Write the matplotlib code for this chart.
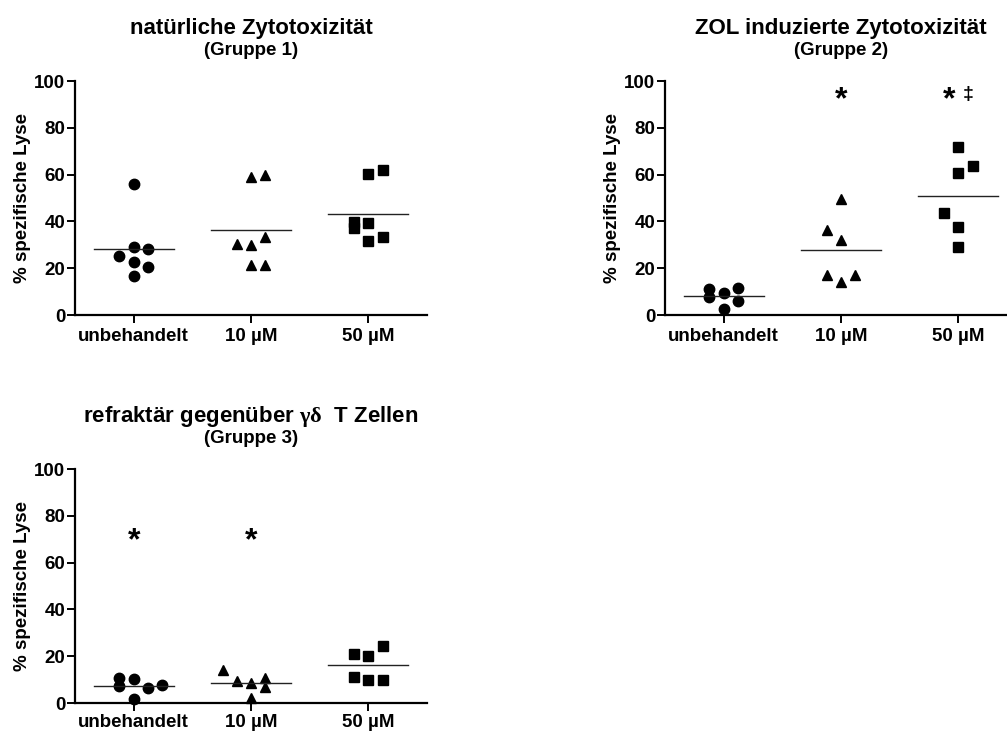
import numpy as np
import matplotlib
matplotlib.use('Agg')
import matplotlib.pyplot as plt

plt.rcParams['font.family'] = ['Liberation Sans', 'DejaVu Sans']
plt.rcParams['font.weight'] = 'bold'
plt.rcParams['axes.labelweight'] = 'bold'
plt.rcParams['mathtext.fontset'] = 'custom'
plt.rcParams['mathtext.rm'] = 'Liberation Serif'
plt.rcParams['mathtext.it'] = 'Liberation Serif'
plt.rcParams['mathtext.bf'] = 'Liberation Serif'

categories = ['unbehandelt', '10 µM', '50 µM']
ylabel = '% spezifische Lyse'

# Gruppe 1
g1_values = [
    [56.0, 28.9, 28.1, 25.4, 22.6, 20.4, 16.5],
    [59.0, 59.7, 30.5, 29.9, 33.5, 21.4, 21.4],
    [60.4, 61.8, 39.9, 37.0, 39.5, 31.8, 33.2],
]
g1_slots = [
    [0, 0, 1, -1, 0, 1, 0],
    [0, 1, -1, 0, 1, 0, 1],
    [0, 1, -1, -1, 0, 0, 1],
]

# Gruppe 2
g2_values = [
    [11.0, 7.5, 9.5, 11.4, 6.1, 2.6],
    [49.7, 36.3, 32.1, 17.2, 14.1, 17.2],
    [71.7, 63.7, 60.5, 43.7, 37.6, 29.1],
]
g2_slots = [
    [-1, -1, 0, 1, 1, 0],
    [0, -1, 0, -1, 0, 1],
    [0, 1, 0, -1, 0, 0],
]

# Gruppe 3
g3_values = [
    [10.6, 7.4, 10.3, 6.3, 7.7, 1.9],
    [14.1, 9.3, 8.7, 10.7, 7.0, 2.0],
    [21.0, 20.1, 24.4, 11.0, 10.0, 10.0],
]
g3_slots = [
    [-1, -1, 0, 1, 2, 0],
    [-2, -1, 0, 1, 1, 0],
    [-1, 0, 1, -1, 0, 1],
]

# significance marks: (category, x shift, y, text)
g2_marks = [(1, 0.0, 94, '*'), (2, -0.08, 94, '*'), (2, 0.085, 94, '‡')]
g3_marks = [(0, 0.0, 71.3, '*'), (1, 0.0, 71.3, '*')]

markers = ['o', '^', 's']
slot_step = 0.121

W, H = 1007, 734
fig = plt.figure(figsize=(W / 100, H / 100), dpi=100)


def make_ax(left_px, top_px):
    return fig.add_axes([left_px / W, 1 - (top_px + 234) / H, 352 / W, 234 / H])


def draw_panel(ax, values, slots, title, subtitle, marks, xpad=3.5):
    for i, (vals, sl) in enumerate(zip(values, slots)):
        x = i + np.array(sl) * slot_step
        ax.plot(x, vals, linestyle='none', marker=markers[i], ms=7.5,
                color='black', clip_on=False)
        m = np.mean(vals)
        ax.plot([i - 0.34, i + 0.34], [m, m], color='#222222', lw=1.0)
    for cat, dx, y, s in marks:
        if s == '*':
            ax.annotate(s, (cat + dx, y), xytext=(0, -9.5), textcoords='offset points',
                        ha='center', va='baseline', fontsize=23, fontweight='bold')
        else:
            ax.annotate(s, (cat + dx, y), xytext=(0, -3), textcoords='offset points',
                        ha='center', va='baseline', fontsize=14, fontweight='bold')

    ax.set_xlim(-0.5, 2.5)
    ax.set_ylim(0, 100)
    ax.set_yticks([0, 20, 40, 60, 80, 100])
    ax.set_xticks(range(len(categories)))
    ax.set_xticklabels(categories)
    ax.set_ylabel(ylabel, fontsize=13.5, fontweight='bold', labelpad=2)
    for side in ['top', 'right']:
        ax.spines[side].set_visible(False)
    for side in ['left', 'bottom']:
        ax.spines[side].set_linewidth(1.6)
    ax.tick_params(axis='both', width=1.4, length=6, labelsize=13.5)
    ax.tick_params(axis='y', pad=1)
    ax.tick_params(axis='x', pad=xpad)

    ax.annotate(title, (0.5, 1), xycoords='axes fraction', xytext=(0, 47),
                textcoords='offset pixels', ha='center', va='baseline',
                fontsize=16, fontweight='bold')
    ax.annotate(subtitle, (0.5, 1), xycoords='axes fraction', xytext=(0, 26),
                textcoords='offset pixels', ha='center', va='baseline',
                fontsize=13.5, fontweight='bold')


ax1 = make_ax(75, 81)
draw_panel(ax1, g1_values, g1_slots, 'natürliche Zytotoxizität', '(Gruppe 1)', [])

ax2 = make_ax(665, 81)
draw_panel(ax2, g2_values, g2_slots, 'ZOL induzierte Zytotoxizität', '(Gruppe 2)', g2_marks)

ax3 = make_ax(75, 469)
draw_panel(ax3, g3_values, g3_slots, r'refraktär gegenüber $\gamma\delta$  T Zellen',
           '(Gruppe 3)', g3_marks, xpad=2)

fig.savefig('out.png', dpi=100)
